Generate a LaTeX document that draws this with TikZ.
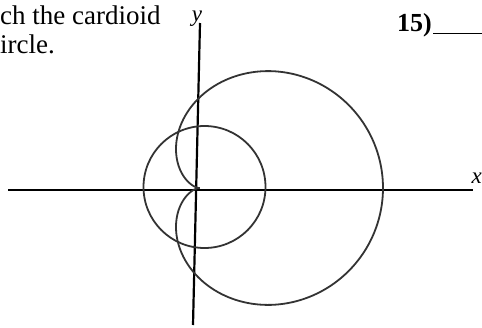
\documentclass[tikz,border=0pt]{standalone}
\usepackage{fontspec}
\setmainfont{Liberation Serif}
\begin{document}
\begin{tikzpicture}[x=1pt,y=-1pt,
  axis/.style={line width=2.2pt,black},
  curve/.style={line width=1.8pt,black!80},
  txt/.style={inner sep=0pt,font=\fontsize{27}{32}\selectfont},
  lbl/.style={inner sep=0pt,font=\fontsize{23}{26}\selectfont\itshape}]
\useasboundingbox (0,0) rectangle (482,327);
% text
\node[txt,anchor=base west] (t1) at (0,24) {ch the cardioid};
\node[txt,anchor=base west] (t2) at (0,53) {ircle.};
\node[txt,anchor=base west,font=\fontsize{26}{30}\selectfont\bfseries] (q) at (397,31) {15)};
\coordinate (u1) at (433,33);
\coordinate (u2) at (482,33);
\draw[line width=0.9pt] (u1) -- (u2);
% axes
\coordinate (xl) at (8,190);
\coordinate (xr) at (473,190);
\coordinate (yt) at (200,23);
\coordinate (yb) at (193,325);
\draw[axis] (xl) -- (xr);
\draw[axis] (yt) -- (yb);
\node[lbl,anchor=base] (ylab) at (197,21) {y};
\node[lbl,anchor=base east] (xlab) at (482,183) {x};
% circle
\draw[curve] (204.5,187) circle[radius=61];
% cardioid
\draw[curve] plot[domain=0:360,samples=240,smooth] ({199+92*(1+cos(\x))*cos(\x)},{188-90*(1+cos(\x))*sin(\x)});
\end{tikzpicture}
\end{document}
